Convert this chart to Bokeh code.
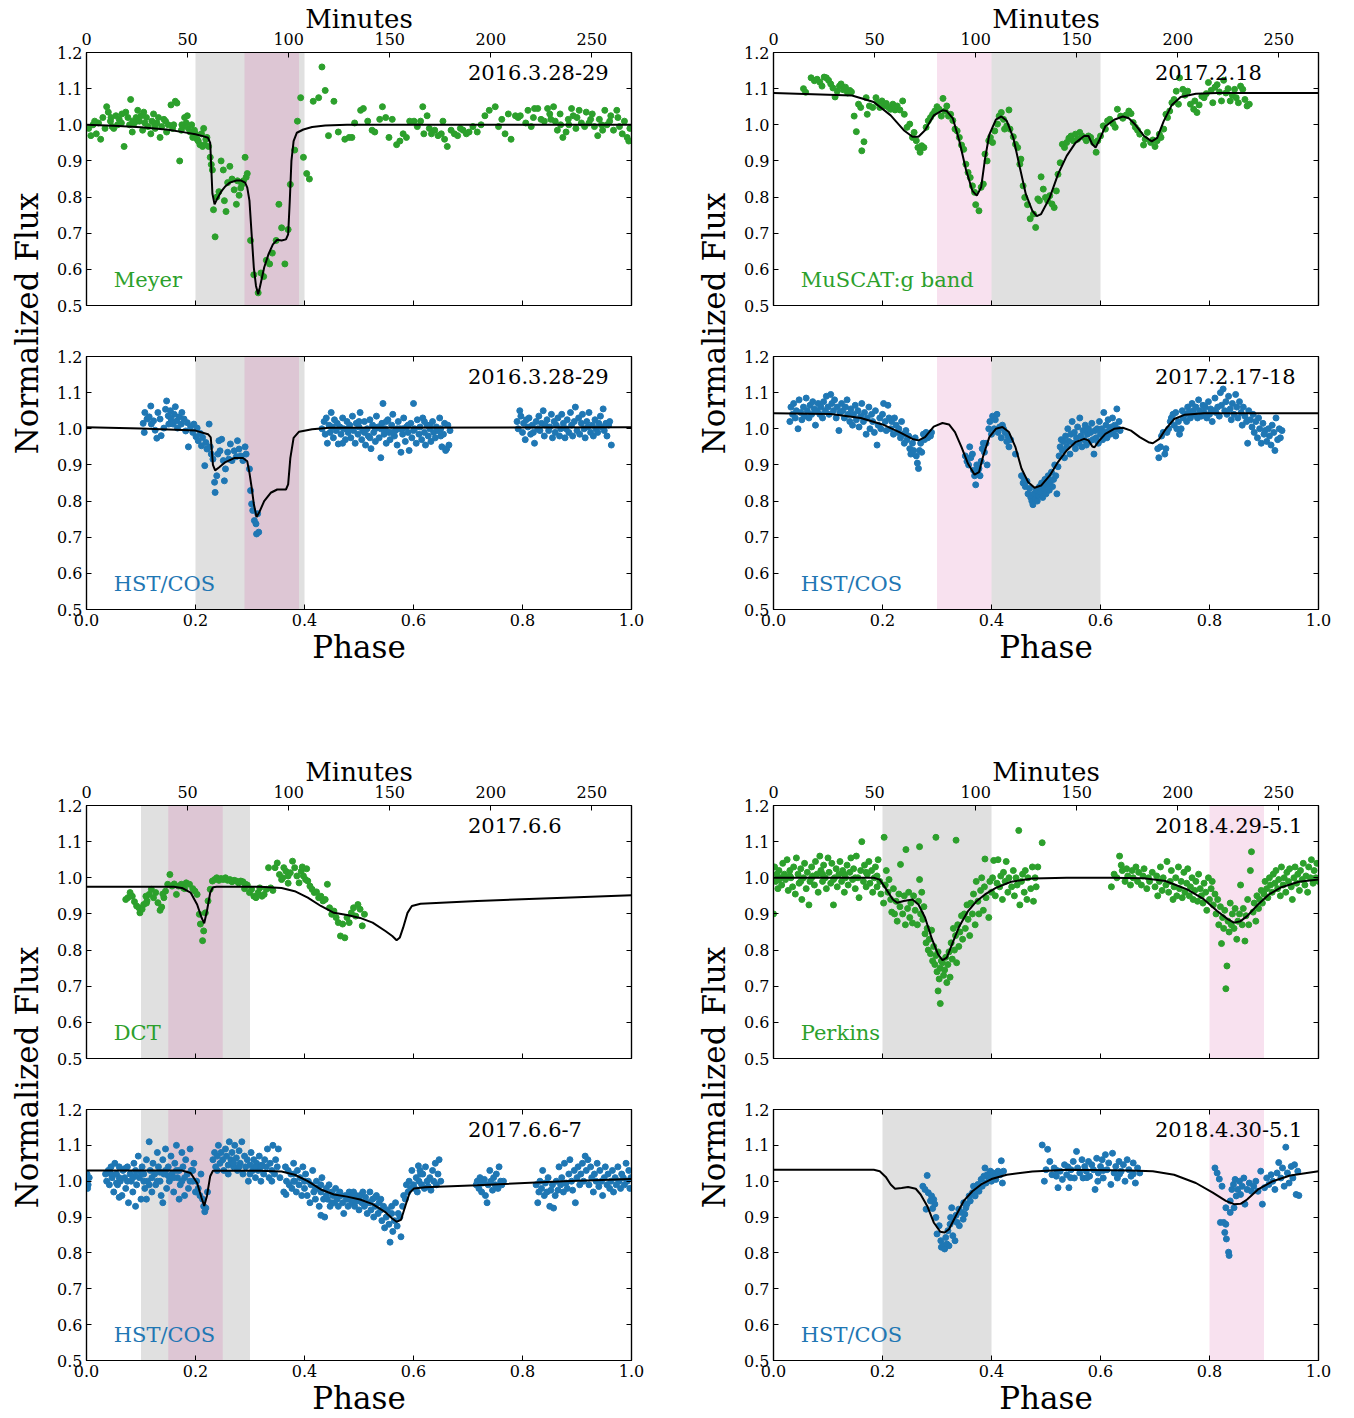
import math
from bokeh.plotting import figure
from bokeh.models import Range1d, LinearAxis, FixedTicker, Label, BoxAnnotation
from bokeh.layouts import row, column
from bokeh.embed import file_html
from bokeh.resources import INLINE

# ---------------------------------------------------------------- data
PERIOD_MIN = 269.6

yticks = [0.5, 0.6, 0.7, 0.8, 0.9, 1.0, 1.1, 1.2]
ytick_labels = ["0.5", "0.6", "0.7", "0.8", "0.9", "1.0", "1.1", "1.2"]
phase_ticks = [0.0, 0.2, 0.4, 0.6, 0.8, 1.0]
phase_tick_labels = ["0.0", "0.2", "0.4", "0.6", "0.8", "1.0"]
minute_ticks = [0, 50, 100, 150, 200, 250]
minute_tick_labels = ["0", "50", "100", "150", "200", "250"]

dates = ["2016.3.28-29", "2016.3.28-29", "2017.2.18", "2017.2.17-18",
         "2017.6.6", "2017.6.6-7", "2018.4.29-5.1", "2018.4.30-5.1"]
instruments = ["Meyer", "HST/COS", "MuSCAT:g band", "HST/COS",
               "DCT", "HST/COS", "Perkins", "HST/COS"]

# shaded windows (phase)
gray_2016 = (0.2, 0.4)
pink_2016 = (0.29, 0.39)
gray_2017a = (0.4, 0.6)
pink_2017a = (0.3, 0.4)
gray_2017b = (0.1, 0.3)
pink_2017b = (0.15, 0.25)
gray_2018 = (0.2, 0.4)
pink_2018 = (0.8, 0.9)

meyer_pts = [
(0.004,0.99),(0.008,0.97),(0.012,1.0),(0.018,0.975),(0.022,1.005),(0.026,0.96),(0.03,1.02),(0.034,0.99),(0.037,1.05),(0.04,1.035),
(0.044,1.01),(0.047,0.995),(0.05,0.99),(0.054,1.025),(0.057,1.0),(0.06,1.015),(0.064,1.005),(0.069,0.94),(0.072,1.035),(0.076,1.02),
(0.079,1.0),(0.081,1.07),(0.084,0.98),(0.088,1.005),(0.091,1.02),(0.094,1.04),(0.097,1.01),(0.1,1.025),(0.103,0.985),(0.107,1.005),
(0.11,1.02),(0.113,0.995),(0.118,0.975),(0.12,1.01),(0.123,1.03),(0.126,0.99),(0.129,1.005),(0.132,1.02),(0.135,0.965),(0.138,0.995),
(0.142,1.015),(0.147,0.98),(0.15,1.0),(0.155,1.055),(0.158,0.99),(0.163,1.065),(0.166,1.06),(0.171,0.9),(0.174,0.985),(0.177,0.995),
(0.18,1.02),(0.183,1.005),(0.187,0.99),(0.19,0.98),(0.193,1.0),(0.195,0.965),(0.198,0.985),
(0.2,0.975),(0.203,0.96),(0.205,0.955),(0.208,0.945),(0.211,0.975),(0.213,0.94),(0.215,0.99),(0.217,0.945),(0.219,0.96),(0.221,0.965),
(0.224,0.94),(0.227,0.91),(0.229,0.89),(0.231,0.875),(0.233,0.765),(0.236,0.69),(0.239,0.8),(0.243,0.815),(0.247,0.9),(0.251,0.875),
(0.253,0.79),(0.256,0.76),(0.259,0.84),(0.263,0.885),(0.267,0.85),(0.271,0.82),(0.275,0.78),(0.277,0.845),(0.28,0.805),(0.283,0.825),
(0.285,0.835),(0.288,0.845),(0.291,0.91),(0.293,0.855),(0.295,0.865),(0.301,0.68),(0.307,0.585),(0.315,0.535),(0.32,0.59),(0.325,0.58),
(0.33,0.625),(0.336,0.615),(0.341,0.645),(0.348,0.68),(0.353,0.78),(0.358,0.715),(0.364,0.615),(0.37,0.71),(0.374,0.835),(0.382,0.93),
(0.387,1.01),(0.393,1.075),(0.398,0.91),(0.404,0.865),(0.409,0.85),(0.416,1.065),(0.426,1.075),(0.432,1.16),(0.438,1.095),(0.444,0.97),
(0.454,1.065),(0.462,0.98),(0.474,0.96),(0.482,0.965),(0.487,0.965),(0.492,1.005),(0.503,1.04),(0.508,1.045),(0.516,1.01),(0.524,0.985),
(0.529,0.98),(0.538,1.015),(0.543,1.05),(0.549,1.02),(0.555,0.965),(0.561,1.015),(0.569,0.945),(0.575,0.955),(0.581,0.975),(0.587,0.965),
(0.593,1.01),(0.601,1.01),(0.607,0.995),(0.613,1.01),(0.617,1.05),(0.619,0.975),(0.625,1.025),(0.629,0.99),(0.633,0.975),(0.639,0.985),
(0.645,0.97),(0.651,0.975),(0.654,1.01),(0.657,0.96),(0.662,0.94),(0.669,0.985),(0.675,0.975),(0.681,0.97),(0.686,0.99),(0.691,0.985),
(0.697,0.975),(0.702,0.98),(0.709,0.995),(0.717,0.98),(0.724,1.0),(0.731,1.025),(0.739,1.04),(0.75,1.05),(0.756,0.995),(0.762,1.015),
(0.768,0.975),(0.774,1.03),(0.779,0.96),(0.787,1.025),(0.792,1.02),(0.796,1.025),(0.806,1.005),(0.81,1.04),(0.816,0.995),(0.822,1.045),
(0.828,1.045),(0.834,1.015),(0.84,1.01),(0.846,1.045),(0.852,1.015),(0.857,1.05),(0.864,0.985),(0.869,1.03),(0.874,0.965),(0.88,0.98),
(0.884,1.015),(0.89,1.045),(0.893,1.025),(0.898,0.99),(0.904,1.04),(0.908,1.005),(0.914,0.995),(0.917,1.035),(0.922,1.005),(0.928,1.03),
(0.932,0.995),(0.938,0.97),(0.941,1.015),(0.947,0.985),(0.951,1.04),(0.955,1.0),(0.962,1.025),(0.967,0.985),(0.973,1.04),(0.978,0.995),
(0.983,0.975),(0.987,1.01),(0.992,0.965),(0.995,0.955),(0.997,0.99),
(0.015,1.01),(0.045,1.02),(0.065,1.03),(0.085,1.01),(0.105,1.035),(0.125,1.0),(0.145,1.01),(0.16,1.0),(0.185,1.025),(0.175,1.0),
(0.82,1.02),(0.85,1.03),(0.87,1.0),(0.9,1.02),(0.925,1.015),(0.945,1.0),(0.96,1.01),(0.975,1.02),(0.86,1.01),(0.885,1.0)]

meyer_model = [
(0.0,1.0),(0.05,0.997),(0.1,0.993),(0.15,0.986),(0.18,0.979),(0.2,0.974),(0.215,0.968),(0.223,0.964),(0.227,0.95),(0.231,0.81),
(0.235,0.78),(0.239,0.793),(0.247,0.815),(0.255,0.83),(0.263,0.84),(0.275,0.846),(0.283,0.846),(0.291,0.84),(0.295,0.826),(0.299,0.79),
(0.303,0.697),(0.307,0.605),(0.311,0.554),(0.315,0.531),(0.318,0.55),(0.326,0.605),(0.334,0.642),(0.342,0.669),(0.35,0.682),(0.358,0.68),
(0.366,0.683),(0.37,0.697),(0.373,0.79),(0.376,0.9),(0.38,0.955),(0.386,0.978),(0.398,0.987),(0.414,0.994),(0.438,0.998),(0.478,1.0),(1.0,1.0)]

hst16_pts = [
(0.104,1.015),(0.106,0.99),(0.107,1.045),(0.111,1.027),(0.115,1.033),(0.118,1.063),(0.119,1.013),(0.123,1.022),(0.126,0.996),(0.129,0.974),
(0.131,1.045),(0.135,1.027),(0.137,0.981),(0.142,1.002),(0.145,1.054),(0.147,1.077),(0.15,1.036),(0.151,1.013),(0.154,1.05),(0.155,1.027),
(0.159,1.013),(0.161,1.04),(0.163,1.061),(0.166,1.022),(0.167,1.002),(0.17,1.033),(0.174,1.013),(0.175,1.045),(0.179,1.027),(0.182,0.994),
(0.185,1.017),(0.187,0.95),(0.191,1.006),(0.195,0.99),(0.197,1.013),(0.201,0.978),(0.203,1.002),(0.205,0.967),(0.209,0.987),(0.211,0.953),
(0.213,0.976),(0.217,0.898),(0.219,0.962),(0.221,0.944),(0.225,1.013),(0.227,0.95),(0.229,0.93),(0.232,0.916),(0.235,0.852),(0.236,0.824),
(0.239,0.87),(0.241,0.93),(0.243,0.967),(0.245,0.939),(0.248,0.971),(0.251,0.912),(0.253,0.856),(0.255,0.889),(0.259,0.935),(0.261,0.916),
(0.264,0.958),(0.267,0.912),(0.271,0.939),(0.275,0.923),(0.277,0.967),(0.28,0.944),(0.283,0.925),(0.287,0.912),(0.291,0.95),(0.293,0.93),
(0.299,0.889),(0.301,0.829),(0.303,0.792),(0.305,0.774),(0.308,0.746),(0.311,0.737),(0.312,0.709),(0.316,0.714),(0.314,0.765),
(0.432,1.0),(0.436,1.02),(0.438,0.985),(0.44,1.03),(0.442,0.96),(0.445,1.01),(0.447,0.99),(0.449,1.045),(0.451,1.005),(0.453,0.975),
(0.455,1.025),(0.458,0.995),(0.46,1.015),(0.462,0.958),(0.465,1.005),(0.467,0.985),(0.47,1.03),(0.472,1.0),(0.475,0.97),(0.478,1.02),
(0.48,0.99),(0.483,1.01),(0.485,0.975),(0.488,1.035),(0.49,0.995),(0.493,0.96),(0.495,1.015),(0.498,0.985),(0.5,1.005),(0.502,1.045),
(0.505,0.97),(0.507,0.995),(0.51,1.02),(0.512,0.955),(0.515,1.0),(0.517,0.98),(0.52,1.025),(0.522,0.945),(0.525,1.01),(0.527,0.99),
(0.53,0.965),(0.532,1.035),(0.535,1.005),(0.537,0.975),(0.54,0.92),(0.542,1.015),(0.544,1.07),(0.546,0.985),(0.548,1.0),(0.55,0.96),
(0.553,1.025),(0.555,0.99),(0.557,0.97),(0.56,1.01),(0.562,1.04),(0.565,0.98),(0.567,0.995),(0.57,0.955),(0.572,1.02),(0.575,1.0),
(0.577,0.935),(0.58,0.985),(0.582,1.03),(0.585,0.965),(0.587,1.005),(0.59,0.99),(0.592,0.94),(0.595,1.015),(0.597,0.975),(0.6,1.07),
(0.602,1.0),(0.605,0.96),(0.607,1.025),(0.61,0.985),(0.612,1.005),(0.615,0.97),(0.617,1.03),(0.62,0.99),(0.622,0.955),(0.625,1.01),
(0.627,0.98),(0.63,1.0),(0.632,0.965),(0.635,1.02),(0.637,0.99),(0.64,0.975),(0.642,1.005),(0.645,0.995),(0.648,1.03),(0.65,0.98),
(0.652,0.95),(0.655,0.985),(0.657,1.015),(0.659,0.94),(0.661,0.945),(0.663,1.01),(0.665,0.955),(0.667,0.995),
(0.47,0.96),(0.5,1.02),(0.53,1.0),(0.56,0.99),(0.59,1.01),(0.62,1.02),(0.65,1.0),(0.48,1.0),(0.51,0.99),(0.54,1.0),
(0.57,1.0),(0.6,0.995),(0.63,1.01),(0.55,1.02),(0.58,1.0),(0.52,0.975),
(0.79,1.02),(0.792,1.0),(0.795,1.05),(0.797,1.035),(0.8,0.99),(0.802,1.015),(0.805,0.97),(0.807,1.025),(0.81,1.005),(0.812,1.03),
(0.815,0.985),(0.818,1.01),(0.82,0.99),(0.822,0.96),(0.825,1.02),(0.828,1.0),(0.83,1.035),(0.832,0.995),(0.835,1.015),(0.838,1.05),
(0.84,0.98),(0.842,1.01),(0.845,1.025),(0.848,0.995),(0.85,1.005),(0.853,1.04),(0.855,0.975),(0.858,1.02),(0.86,0.99),(0.862,1.01),
(0.865,1.03),(0.868,0.98),(0.87,1.0),(0.872,1.04),(0.875,1.015),(0.878,0.975),(0.88,1.0),(0.882,1.025),(0.885,0.99),(0.888,1.045),
(0.89,1.01),(0.892,0.98),(0.895,1.02),(0.897,1.06),(0.9,0.995),(0.903,1.03),(0.905,0.985),(0.908,1.015),(0.91,1.04),(0.913,1.0),
(0.915,0.975),(0.918,1.02),(0.92,1.005),(0.922,1.045),(0.925,0.99),(0.928,1.01),(0.93,0.98),(0.933,1.025),(0.935,1.0),(0.938,0.99),
(0.94,1.015),(0.943,1.035),(0.945,1.005),(0.948,1.055),(0.95,0.995),(0.953,1.015),(0.955,0.98),(0.958,1.01),(0.96,1.02),(0.963,0.955)]

hst16_model = [
(0.0,1.004),(0.1,1.001),(0.2,0.995),(0.223,0.985),(0.228,0.976),(0.232,0.9),(0.236,0.885),(0.243,0.893),(0.255,0.908),(0.271,0.919),
(0.287,0.919),(0.295,0.91),(0.299,0.878),(0.303,0.838),(0.307,0.792),(0.312,0.756),(0.317,0.769),(0.326,0.8),(0.338,0.823),(0.35,0.832),
(0.366,0.832),(0.37,0.846),(0.374,0.919),(0.38,0.975),(0.39,0.992),(0.414,0.999),(0.446,1.003),(1.0,1.004)]

muscat_pts = [
(0.055,1.1),(0.059,1.09),(0.069,1.13),(0.075,1.122),(0.08,1.126),(0.085,1.118),(0.089,1.107),(0.093,1.132),(0.097,1.13),(0.101,1.123),
(0.105,1.113),(0.109,1.102),(0.113,1.077),(0.117,1.093),(0.121,1.107),(0.124,1.113),(0.128,1.097),(0.132,1.104),(0.136,1.088),(0.14,1.095),
(0.143,1.091),(0.148,1.024),(0.152,0.981),(0.156,1.057),(0.16,1.048),(0.162,0.928),(0.166,0.953),(0.17,1.075),(0.172,1.029),(0.176,1.052),
(0.182,1.048),(0.188,1.075),(0.191,1.061),(0.195,1.048),(0.199,1.066),(0.203,1.052),(0.207,1.059),(0.211,1.048),(0.215,1.043),(0.219,1.057),
(0.223,1.041),(0.227,1.052),(0.232,1.041),(0.237,1.066),(0.24,1.029),(0.245,0.993),(0.25,1.002),(0.255,0.965),(0.258,0.979),(0.262,0.956),
(0.265,0.937),(0.269,0.924),(0.272,0.942),(0.276,0.937),(0.28,0.993),(0.284,1.011),(0.288,1.02),(0.292,1.029),(0.296,1.038),(0.3,1.05),
(0.304,1.043),(0.308,1.024),(0.311,1.073),(0.315,1.038),(0.318,1.052),(0.321,1.024),(0.325,1.029),(0.329,1.012),(0.333,0.988),(0.337,0.983),
(0.341,0.965),(0.345,0.944),(0.349,0.932),(0.353,0.891),(0.357,0.868),(0.361,0.854),(0.365,0.831),(0.369,0.813),(0.371,0.779),(0.377,0.762),
(0.381,0.827),(0.385,0.836),(0.388,0.919),(0.392,0.9),(0.395,0.956),(0.398,0.965),(0.402,0.951),(0.406,0.983),(0.411,1.002),(0.414,1.024),
(0.418,1.034),(0.422,1.015),(0.424,0.988),(0.428,0.997),(0.432,1.041),(0.434,0.988),(0.44,0.967),(0.444,0.946),(0.448,0.937),(0.452,0.891),
(0.454,0.905),(0.458,0.831),(0.461,0.799),(0.466,0.779),(0.471,0.74),(0.477,0.753),(0.481,0.716),(0.485,0.795),(0.488,0.79),(0.491,0.856),
(0.495,0.822),(0.499,0.799),(0.503,0.79),(0.507,0.804),(0.511,0.781),(0.515,0.771),(0.519,0.817),(0.522,0.863),(0.526,0.895),(0.53,0.946),
(0.534,0.937),(0.538,0.951),(0.542,0.963),(0.546,0.969),(0.55,0.956),(0.554,0.974),(0.558,0.96),(0.562,0.979),(0.566,0.969),(0.57,0.965),
(0.574,0.956),(0.578,0.969),(0.582,0.965),(0.587,0.951),(0.592,0.924),(0.595,0.956),(0.6,0.969),(0.605,0.997),(0.609,0.988),(0.613,1.011),
(0.617,1.015),(0.623,1.003),(0.627,0.993),(0.631,1.043),(0.637,1.024),(0.641,1.018),(0.647,1.027),(0.652,1.038),(0.656,1.031),(0.66,1.006),
(0.664,0.993),(0.668,0.985),(0.672,0.974),(0.679,0.944),(0.682,0.96),(0.686,0.979),(0.692,0.951),(0.696,0.958),(0.7,0.94),(0.704,0.956),
(0.708,0.974),(0.711,0.965),(0.716,0.988),(0.72,1.029),(0.723,1.02),(0.727,1.038),(0.731,1.061),(0.735,1.07),(0.739,1.093),(0.743,1.057),
(0.745,1.13),(0.751,1.098),(0.755,1.082),(0.76,1.093),(0.765,1.057),(0.771,1.043),(0.773,1.066),(0.777,1.034),(0.781,1.055),(0.786,1.079),
(0.79,1.075),(0.794,1.086),(0.798,1.117),(0.803,1.095),(0.806,1.061),(0.81,1.104),(0.814,1.111),(0.818,1.091),(0.822,1.066),(0.826,1.123),
(0.83,1.088),(0.834,1.1),(0.838,1.066),(0.842,1.082),(0.846,1.098),(0.849,1.075),(0.853,1.061),(0.857,1.107),(0.861,1.098),(0.865,1.07),
(0.869,1.052),(0.873,1.057)]

muscat_model = [
(0.0,1.088),(0.144,1.081),(0.184,1.063),(0.215,1.026),(0.239,0.985),(0.255,0.967),(0.266,0.967),(0.278,0.985),(0.294,1.026),(0.31,1.04),
(0.318,1.038),(0.329,1.018),(0.341,0.955),(0.353,0.877),(0.365,0.817),(0.373,0.804),(0.381,0.827),(0.388,0.905),(0.396,0.973),(0.408,1.014),
(0.418,1.023),(0.428,1.011),(0.44,0.964),(0.452,0.882),(0.463,0.808),(0.475,0.762),(0.483,0.747),(0.491,0.753),(0.507,0.799),(0.522,0.863),
(0.538,0.914),(0.554,0.95),(0.57,0.969),(0.578,0.969),(0.585,0.946),(0.591,0.937),(0.597,0.955),(0.609,0.996),(0.625,1.014),(0.641,1.023),
(0.652,1.018),(0.664,1.0),(0.68,0.969),(0.694,0.954),(0.704,0.964),(0.716,1.01),(0.731,1.055),(0.747,1.077),(0.775,1.086),(0.814,1.088),(1.0,1.088)]

hst17a_pts = [
(0.03,1.02),(0.032,1.06),(0.035,1.04),(0.037,1.07),(0.04,1.03),(0.042,1.05),(0.045,1.0),(0.047,1.08),(0.05,1.045),(0.052,1.025),
(0.055,1.06),(0.057,1.035),(0.06,1.085),(0.062,1.05),(0.065,1.03),(0.067,1.065),(0.07,1.04),(0.072,1.075),(0.075,1.055),(0.077,1.01),
(0.08,1.05),(0.082,1.07),(0.085,1.04),(0.087,1.06),(0.09,1.03),(0.092,1.075),(0.095,1.05),(0.097,1.09),(0.1,1.06),(0.102,1.04),
(0.105,1.095),(0.107,1.07),(0.11,1.05),(0.112,1.08),(0.115,1.03),(0.117,1.06),(0.12,0.995),(0.122,1.045),(0.125,1.07),(0.127,1.05),
(0.13,1.03),(0.132,1.06),(0.135,1.08),(0.137,1.04),(0.14,1.02),(0.142,1.055),(0.145,1.01),(0.147,1.04),(0.15,1.065),(0.152,1.025),
(0.155,1.05),(0.157,1.005),(0.16,1.035),(0.162,1.07),(0.165,1.02),(0.167,1.045),(0.17,0.985),(0.172,1.03),(0.175,1.06),(0.177,1.0),
(0.18,1.04),(0.182,1.02),(0.185,0.99),(0.187,1.05),(0.19,0.955),(0.192,1.01),(0.195,1.03),(0.197,1.0),(0.2,1.04),(0.202,1.07),
(0.205,1.02),(0.207,0.995),(0.21,1.065),(0.212,1.03),(0.215,1.0),(0.217,1.02),(0.22,0.985),(0.222,1.03),(0.225,1.01),(0.228,0.99),
(0.23,1.0),(0.233,0.975),(0.235,1.02),(0.238,0.985),(0.24,0.96),(0.243,0.995),(0.245,0.97),(0.248,0.98),(0.25,0.945),(0.252,0.93),
(0.255,0.96),(0.257,0.94),(0.26,0.975),(0.262,0.925),(0.264,0.905),(0.266,0.89),(0.268,0.94),(0.27,0.96),(0.272,0.935),(0.275,0.985),
(0.277,0.97),(0.28,0.99),(0.283,0.975),(0.285,0.985),(0.288,0.98),(0.29,0.99),
(0.352,0.925),(0.355,0.91),(0.358,0.9),(0.36,0.95),(0.362,0.92),(0.365,0.93),(0.367,0.885),(0.369,0.87),(0.371,0.845),(0.373,0.9),
(0.375,0.88),(0.377,0.89),(0.379,0.87),(0.381,0.91),(0.383,0.945),(0.385,0.96),(0.387,0.935),(0.39,0.96),(0.392,0.9),(0.395,1.0),
(0.397,1.02),(0.4,0.985),(0.402,1.035),(0.405,1.0),(0.407,1.025),(0.41,1.04),(0.412,0.99),(0.415,1.005),(0.418,0.975),(0.42,1.01),
(0.422,1.0),(0.425,0.99),(0.428,0.965),(0.43,0.98),(0.432,0.95),(0.435,0.97),(0.444,0.93),
(0.455,0.87),(0.458,0.85),(0.46,0.86),(0.462,0.84),(0.465,0.855),(0.467,0.82),(0.47,0.835),(0.472,0.81),(0.474,0.8),(0.476,0.79),
(0.478,0.82),(0.48,0.805),(0.482,0.83),(0.484,0.8),(0.486,0.815),(0.488,0.84),(0.49,0.825),(0.492,0.85),(0.494,0.81),(0.496,0.835),
(0.498,0.86),(0.5,0.82),(0.502,0.845),(0.504,0.87),(0.506,0.83),(0.508,0.855),(0.51,0.88),(0.512,0.84),(0.514,0.86),(0.516,0.9),
(0.518,0.87),(0.52,0.82),(0.522,0.895),(0.524,0.925),(0.526,0.95),(0.528,0.97),(0.53,0.94),(0.532,0.965),(0.534,0.92),(0.536,0.98),
(0.538,0.95),(0.54,1.0),(0.542,0.965),(0.544,0.93),(0.546,0.985),(0.548,1.02),(0.55,0.96),(0.552,0.99),(0.554,0.945),(0.556,0.975),
(0.558,1.005),(0.56,0.96),(0.562,1.03),(0.564,0.98),(0.566,0.95),(0.568,0.995),(0.57,0.97),(0.572,1.01),(0.574,0.955),(0.576,0.985),
(0.578,1.0),(0.58,0.965),(0.582,0.99),(0.584,1.015),(0.586,0.97),(0.588,0.93),(0.59,0.995),(0.592,0.975),(0.594,1.0),(0.596,0.96),
(0.598,1.02),(0.6,0.985),(0.602,1.0),(0.604,0.97),(0.606,1.045),(0.608,0.99),(0.61,1.01),(0.612,0.975),(0.614,1.025),(0.616,0.995),
(0.618,0.985),(0.62,1.005),(0.622,1.03),(0.624,0.99),(0.626,1.01),(0.628,0.98),(0.63,1.055),(0.632,1.0),(0.634,1.02),(0.636,0.995),
(0.705,0.945),(0.707,0.92),(0.71,0.95),(0.712,0.98),(0.715,0.99),(0.718,0.93),(0.72,0.945),(0.722,0.99),(0.725,1.0),(0.728,1.02),
(0.73,1.03),(0.733,1.04),(0.735,1.01),(0.738,1.045),(0.74,1.0),(0.743,1.02),(0.745,0.985),(0.748,1.0),(0.75,1.05),(0.752,1.03),
(0.755,1.04),(0.758,1.02),(0.76,1.06),(0.762,1.045),(0.765,1.03),(0.768,1.07),(0.77,1.05),(0.772,1.04),(0.775,1.06),(0.778,1.03),
(0.78,1.08),(0.782,1.05),(0.785,1.035),(0.788,1.065),(0.79,1.045),(0.792,1.06),(0.795,1.03),(0.798,1.075),(0.8,1.04),(0.802,1.055),
(0.805,1.02),(0.808,1.05),(0.81,1.085),(0.812,1.045),(0.815,1.06),(0.818,1.035),(0.82,1.1),(0.822,1.065),(0.825,1.11),(0.828,1.05),
(0.83,1.075),(0.832,1.04),(0.835,1.09),(0.838,1.055),(0.84,1.025),(0.842,1.07),(0.845,1.04),(0.848,1.095),(0.85,1.06),(0.852,1.03),
(0.855,1.075),(0.858,1.045),(0.86,1.01),(0.862,1.06),(0.865,1.035),(0.868,1.02),(0.87,0.96),(0.872,1.05),(0.875,1.025),(0.878,1.005),
(0.88,1.04),(0.882,0.99),(0.885,1.02),(0.888,0.975),(0.89,1.03),(0.892,1.0),(0.895,0.96),(0.898,1.015),(0.9,0.985),(0.902,0.995),
(0.905,0.965),(0.908,1.0),(0.91,0.98),(0.913,0.955),(0.915,1.01),(0.918,0.99),(0.92,0.94),(0.922,1.03),(0.925,0.97),(0.928,1.0),
(0.93,0.975),(0.933,0.995)]

hst17a_model = [
(0.0,1.043),(0.105,1.041),(0.16,1.03),(0.2,1.012),(0.231,0.991),(0.255,0.972),(0.266,0.968),(0.278,0.977),(0.294,1.006),(0.31,1.016),
(0.322,1.012),(0.333,0.991),(0.345,0.949),(0.357,0.903),(0.369,0.873),(0.377,0.88),(0.385,0.926),(0.396,0.977),(0.408,1.0),(0.42,1.005),
(0.432,0.991),(0.444,0.949),(0.455,0.89),(0.467,0.853),(0.479,0.837),(0.491,0.843),(0.507,0.871),(0.522,0.908),(0.538,0.94),(0.554,0.963),
(0.57,0.972),(0.578,0.968),(0.585,0.951),(0.589,0.949),(0.597,0.966),(0.609,0.986),(0.625,1.0),(0.641,1.003),(0.656,0.995),(0.672,0.977),
(0.688,0.963),(0.696,0.96),(0.708,0.972),(0.72,1.0),(0.735,1.027),(0.755,1.039),(0.79,1.043),(1.0,1.043)]

dct_pts = [
(0.072,0.94),(0.076,0.945),(0.08,0.959),(0.084,0.949),(0.088,0.934),(0.092,0.922),(0.096,0.917),(0.098,0.903),(0.102,0.913),(0.105,0.926),
(0.109,0.949),(0.111,0.936),(0.115,0.954),(0.119,0.968),(0.123,0.945),(0.127,0.959),(0.131,0.931),(0.135,0.91),(0.138,0.919),(0.142,0.945),
(0.145,0.963),(0.149,0.982),(0.153,1.009),(0.157,0.977),(0.161,0.983),(0.165,0.954),(0.169,0.977),(0.174,0.982),(0.178,0.972),(0.183,0.986),
(0.189,0.982),(0.195,0.97),(0.199,0.963),(0.203,0.954),(0.207,0.899),(0.209,0.872),(0.213,0.826),(0.215,0.853),(0.218,0.903),(0.223,0.936),
(0.227,0.968),(0.231,0.991),(0.235,0.995),(0.239,1.0),(0.243,0.993),(0.247,0.998),(0.251,0.995),(0.255,1.0),(0.259,0.993),(0.263,0.995),
(0.267,0.989),(0.271,0.993),(0.275,0.991),(0.279,0.986),(0.283,0.991),(0.287,0.989),(0.291,0.983),(0.295,0.98),(0.299,0.959),(0.303,0.968),
(0.307,0.949),(0.311,0.945),(0.315,0.959),(0.318,0.972),(0.322,0.949),(0.326,0.954),(0.33,0.968),(0.334,1.028),(0.338,0.972),(0.342,0.965),
(0.346,1.028),(0.35,1.041),(0.354,1.009),(0.358,0.995),(0.362,1.028),(0.366,1.018),(0.37,1.005),(0.374,1.014),(0.378,1.046),(0.382,1.028),
(0.386,1.005),(0.39,0.986),(0.394,1.018),(0.398,1.005),(0.402,0.995),(0.406,0.991),(0.41,0.977),(0.414,0.968),(0.418,0.959),(0.422,0.961),
(0.426,0.945),(0.43,0.949),(0.434,0.936),(0.438,0.94),(0.442,0.982),(0.446,0.917),(0.45,0.899),(0.454,0.908),(0.458,0.89),(0.462,0.876),
(0.466,0.839),(0.47,0.872),(0.474,0.834),(0.478,0.89),(0.482,0.876),(0.486,0.903),(0.49,0.917),(0.494,0.894),(0.498,0.926),(0.502,0.913),
(0.506,0.867),(0.51,0.899),(0.396,1.03),(0.404,1.025),(0.36,1.0),(0.37,0.985),(0.11,0.93),(0.14,0.955),(0.18,0.97),(0.29,0.97)]

dct_model = [
(0.0,0.975),(0.16,0.975),(0.175,0.972),(0.191,0.959),(0.203,0.926),(0.211,0.89),(0.216,0.874),(0.221,0.908),(0.227,0.959),(0.232,0.974),
(0.239,0.975),(0.318,0.975),(0.358,0.972),(0.382,0.963),(0.406,0.945),(0.43,0.922),(0.454,0.903),(0.478,0.897),(0.502,0.889),(0.525,0.876),
(0.549,0.852),(0.561,0.839),(0.569,0.827),(0.575,0.835),(0.581,0.862),(0.589,0.903),(0.597,0.922),(0.613,0.928),(0.717,0.936),(0.876,0.945),(1.0,0.952)]

hst17b_pts = [
(0.0,1.0),(0.001,1.02),(0.002,0.98),(0.003,0.99),(0.005,1.01),
(0.035,1.02),(0.037,1.0),(0.04,1.03),(0.042,0.99),(0.045,1.04),(0.047,1.01),(0.05,0.97),(0.052,1.05),(0.055,1.02),(0.057,0.99),
(0.06,1.04),(0.062,1.0),(0.065,0.96),(0.067,1.03),(0.07,1.01),(0.072,0.98),(0.075,1.04),(0.077,0.94),(0.08,1.02),(0.082,1.0),
(0.085,0.97),(0.087,1.05),(0.09,1.03),(0.092,0.99),(0.095,1.07),(0.097,1.01),(0.1,0.95),(0.102,1.04),(0.105,1.02),(0.107,0.98),
(0.11,1.06),(0.112,1.0),(0.115,1.11),(0.117,1.03),(0.12,0.97),(0.122,1.05),(0.125,1.02),(0.127,0.99),(0.13,1.08),(0.132,1.04),
(0.135,1.0),(0.137,0.96),(0.14,1.06),(0.142,1.02),(0.145,1.09),(0.147,0.98),(0.15,1.04),(0.152,1.0),(0.155,1.07),(0.157,1.02),
(0.16,0.97),(0.162,1.05),(0.165,1.1),(0.167,1.01),(0.17,1.03),(0.172,0.99),(0.175,1.08),(0.177,1.04),(0.18,0.96),(0.182,1.06),
(0.185,1.02),(0.187,0.98),(0.19,1.09),(0.192,1.03),(0.195,1.0),(0.197,1.05),(0.2,0.97),
(0.045,1.02),(0.06,1.01),(0.075,1.0),(0.09,1.015),(0.105,1.0),(0.12,1.01),(0.135,1.025),(0.15,1.015),(0.165,1.03),(0.18,1.01),
(0.195,1.03),(0.055,0.995),(0.07,1.035),(0.085,1.01),(0.1,1.025),(0.115,0.99),(0.13,1.0),(0.145,1.03),(0.16,1.01),(0.175,1.0),
(0.19,1.0),(0.09,0.93),(0.06,0.955),(0.14,0.94),(0.17,0.95),(0.11,0.95),
(0.202,1.0),(0.205,0.98),(0.208,0.96),(0.21,1.02),(0.213,0.95),(0.215,0.93),(0.217,0.915),(0.219,0.925),(0.222,0.97),
(0.232,1.06),(0.235,1.08),(0.237,1.04),(0.24,1.07),(0.242,1.1),(0.245,1.05),(0.247,1.08),(0.25,1.06),(0.252,1.03),(0.255,1.09),
(0.257,1.07),(0.26,1.045),(0.262,1.11),(0.265,1.06),(0.267,1.08),(0.27,1.04),(0.272,1.1),(0.275,1.065),(0.277,1.03),(0.28,1.085),
(0.282,1.05),(0.285,1.11),(0.287,1.02),(0.29,1.07),(0.292,1.04),(0.295,1.06),(0.297,1.0),(0.3,1.045),(0.302,1.08),(0.305,1.03),
(0.307,1.06),(0.31,1.01),(0.312,1.05),(0.315,1.03),(0.317,1.07),(0.32,1.0),(0.322,1.045),(0.325,1.02),(0.327,1.06),(0.33,1.04),
(0.332,1.09),(0.335,1.01),(0.337,1.05),(0.34,1.03),(0.342,1.1),(0.345,1.02),(0.347,1.06),(0.35,1.04),(0.352,1.09),(0.355,1.01),
(0.24,1.03),(0.26,1.02),(0.28,1.04),(0.3,1.02),(0.32,1.04),(0.34,1.0),(0.27,1.05),(0.31,1.04),
(0.362,0.97),(0.365,1.04),(0.367,1.0),(0.37,1.03),(0.372,0.99),(0.375,1.02),(0.377,0.98),(0.38,1.05),(0.382,1.0),(0.385,0.97),
(0.387,1.03),(0.39,0.99),(0.392,1.01),(0.395,0.96),(0.397,1.04),(0.4,0.98),(0.402,1.02),(0.405,0.96),(0.407,1.0),(0.41,0.94),
(0.412,0.99),(0.415,1.03),(0.417,0.97),(0.42,0.95),(0.422,1.0),(0.425,0.98),(0.427,0.93),(0.43,0.97),(0.432,1.01),(0.435,0.95),
(0.437,0.9),(0.44,0.98),(0.442,0.95),(0.445,0.99),(0.447,0.93),(0.45,0.97),(0.452,0.96),(0.455,0.94),(0.457,0.98),(0.46,0.95),
(0.462,0.93),(0.465,0.97),(0.467,0.96),(0.47,0.94),(0.472,0.91),(0.475,0.96),(0.477,0.95),(0.48,0.93),(0.482,0.97),(0.485,0.955),
(0.487,0.94),(0.49,0.97),(0.492,0.93),(0.495,0.96),(0.497,0.945),(0.5,0.92),(0.502,0.96),(0.505,0.94),(0.507,0.97),(0.51,0.93),
(0.512,0.955),(0.515,0.91),(0.517,0.94),(0.52,0.97),(0.522,0.92),(0.525,0.95),(0.527,0.9),(0.53,0.93),(0.532,0.96),(0.535,0.91),
(0.537,0.94),(0.54,0.92),(0.542,0.89),(0.545,0.93),(0.547,0.87),(0.55,0.9),(0.552,0.92),(0.555,0.88),(0.557,0.83),(0.56,0.91),
(0.562,0.86),(0.565,0.89),(0.567,0.94),(0.57,0.875),(0.572,0.91),(0.575,0.9),(0.577,0.845),(0.58,0.93),(0.582,0.96),(0.585,0.95),
(0.587,0.99),(0.59,0.97),(0.592,1.0),(0.595,0.98),(0.597,1.03),(0.6,0.99),
(0.38,1.0),(0.4,1.0),(0.42,0.98),(0.44,0.96),(0.46,0.96),(0.48,0.95),(0.5,0.95),(0.52,0.94),(0.54,0.95),(0.56,0.93),
(0.38,1.02),(0.43,0.99),(0.53,0.955),(0.45,0.94),(0.49,0.95),(0.43,0.905),(0.366,0.963),
(0.602,0.98),(0.605,1.01),(0.607,0.97),(0.61,1.0),(0.612,1.03),(0.615,0.99),(0.617,1.02),(0.62,0.98),(0.622,1.04),(0.625,1.0),
(0.627,0.985),(0.63,1.01),(0.632,0.975),(0.635,1.03),(0.637,1.0),(0.64,1.05),(0.642,0.99),(0.645,1.02),(0.647,1.06),(0.65,1.0),
(0.609,1.043),(0.613,1.02),
(0.715,0.99),(0.717,1.0),(0.72,0.98),(0.722,1.01),(0.725,0.97),(0.727,0.995),(0.73,1.005),(0.732,0.96),(0.735,0.94),(0.737,0.99),
(0.74,1.03),(0.742,1.0),(0.745,0.975),(0.747,1.01),(0.75,0.99),(0.752,1.02),(0.755,0.98),(0.757,1.04),(0.76,1.0),(0.762,0.99),(0.765,1.0),
(0.825,0.99),(0.828,0.94),(0.83,0.97),(0.832,1.0),(0.835,0.98),(0.837,1.03),(0.84,0.96),(0.842,0.995),(0.845,0.97),(0.847,1.01),
(0.85,0.93),(0.852,0.975),(0.855,0.99),(0.857,0.925),(0.86,0.96),(0.862,1.0),(0.865,0.975),(0.867,1.04),(0.87,0.99),(0.872,1.01),
(0.875,0.97),(0.877,1.05),(0.88,0.995),(0.882,0.98),(0.885,1.02),(0.887,1.06),(0.89,1.0),(0.892,0.975),(0.895,1.03),(0.897,0.94),
(0.9,1.01),(0.902,1.04),(0.905,0.99),(0.907,1.02),(0.91,1.05),(0.912,1.0),(0.915,1.07),(0.917,1.03),(0.92,1.06),(0.922,0.99),
(0.925,1.04),(0.927,1.01),(0.93,0.97),(0.932,1.02),(0.935,1.0),(0.937,1.05),(0.94,0.985),(0.942,1.03),(0.945,1.0),(0.947,0.96),
(0.95,1.01),(0.952,1.04),(0.955,0.99),(0.957,1.02),(0.96,0.98),(0.962,1.0),(0.965,1.03),(0.967,0.97),(0.97,1.01),(0.972,0.99),
(0.975,1.04),(0.977,1.0),(0.98,0.98),(0.982,1.02),(0.985,1.01),(0.987,0.99),(0.99,1.05),(0.992,1.0),(0.995,1.03),(0.997,0.98),(0.999,1.01)]

hst17b_model = [
(0.0,1.03),(0.175,1.03),(0.191,1.023),(0.203,0.995),(0.211,0.954),(0.216,0.931),(0.221,0.959),(0.227,1.014),(0.232,1.029),(0.318,1.029),
(0.358,1.027),(0.382,1.018),(0.406,1.0),(0.43,0.977),(0.454,0.963),(0.478,0.957),(0.502,0.949),(0.525,0.936),(0.549,0.913),(0.561,0.896),
(0.569,0.887),(0.577,0.892),(0.585,0.931),(0.593,0.968),(0.601,0.98),(0.621,0.983),(0.717,0.989),(0.876,1.0),(1.0,1.006)]

perkins_pts = [
(0.0,0.9),(0.002,1.03),(0.004,0.99),(0.006,1.01),(0.008,0.97),(0.01,1.02),(0.013,1.0),(0.015,0.98),(0.017,1.04),(0.02,1.01),
(0.022,0.995),(0.025,1.05),(0.027,0.965),(0.03,1.02),(0.032,1.0),(0.035,0.975),(0.037,1.03),(0.04,0.955),(0.042,1.055),(0.045,1.01),
(0.047,0.985),(0.05,1.025),(0.052,0.94),(0.055,1.0),(0.057,1.04),(0.06,0.97),(0.062,1.015),(0.065,0.925),(0.067,0.99),(0.07,1.03),
(0.072,1.005),(0.075,0.98),(0.077,1.045),(0.08,1.01),(0.082,0.96),(0.085,1.06),(0.087,1.02),(0.09,0.99),(0.092,1.035),(0.095,1.0),
(0.097,0.97),(0.1,1.055),(0.102,1.015),(0.105,0.985),(0.107,1.04),(0.11,0.925),(0.112,1.0),(0.115,1.025),(0.117,0.975),(0.12,1.01),
(0.122,1.045),(0.125,0.99),(0.127,1.02),(0.13,0.96),(0.132,1.0),(0.135,1.035),(0.137,0.98),(0.14,1.015),(0.142,1.055),(0.145,0.995),
(0.147,1.025),(0.15,0.97),(0.152,1.06),(0.155,1.0),(0.157,0.945),(0.16,1.02),(0.162,1.1),(0.165,0.99),(0.167,1.035),(0.17,0.975),
(0.172,1.01),(0.175,1.045),(0.177,0.985),(0.18,1.02),(0.182,0.96),(0.185,1.0),(0.187,1.03),(0.19,0.975),(0.192,1.05),(0.195,0.99),
(0.197,0.955),(0.01,0.995),(0.03,1.005),(0.05,0.99),(0.07,1.0),(0.09,1.01),(0.11,0.995),(0.13,1.01),(0.15,1.0),(0.17,1.015),(0.19,1.005),
(0.203,1.112),(0.202,0.93),(0.205,0.98),(0.207,1.02),(0.21,0.96),(0.212,0.995),(0.215,0.94),(0.217,0.905),(0.22,0.97),(0.222,0.9),
(0.225,0.935),(0.227,0.88),(0.23,0.955),(0.232,0.92),(0.233,1.037),(0.237,0.9),(0.24,0.95),(0.242,0.87),(0.243,1.078),(0.246,0.915),
(0.248,0.96),(0.25,0.89),(0.252,0.93),(0.255,0.875),(0.257,0.95),(0.26,0.91),(0.268,1.086),(0.264,0.87),(0.266,0.935),(0.268,0.995),
(0.27,0.9),(0.272,0.96),(0.274,0.885),(0.276,0.92),(0.278,0.845),(0.28,0.82),(0.282,0.86),(0.284,0.8),(0.286,0.83),(0.288,0.79),
(0.29,0.855),(0.292,0.77),(0.294,0.81),(0.296,0.76),(0.298,1.112),(0.298,0.785),(0.3,0.74),(0.302,0.687),(0.302,0.795),(0.304,0.72),
(0.306,0.652),(0.306,0.75),(0.308,0.77),(0.31,0.765),(0.312,0.73),(0.314,0.745),(0.316,0.78),(0.318,0.71),(0.32,0.76),(0.322,0.795),
(0.324,0.725),(0.326,0.82),(0.328,0.775),(0.33,0.86),(0.332,0.8),(0.334,0.84),(0.335,1.104),(0.336,0.765),(0.338,0.87),(0.34,0.81),
(0.342,0.85),(0.345,0.895),(0.347,0.83),(0.35,0.9),(0.352,0.86),(0.355,0.925),(0.357,0.885),(0.36,0.84),(0.362,0.93),(0.365,0.9),
(0.367,0.955),(0.37,0.87),(0.372,0.99),(0.375,0.935),(0.377,0.9),(0.38,0.965),(0.382,1.0),(0.385,0.91),(0.387,0.975),(0.388,1.052),
(0.39,0.945),(0.395,0.89),(0.397,0.99),(0.4,0.96),(0.402,1.0),(0.404,1.048),(0.407,0.95),(0.41,0.985),(0.412,1.05),(0.415,0.975),
(0.417,1.005),(0.42,0.94),(0.422,1.015),(0.425,0.99),(0.427,1.045),(0.43,0.96),(0.432,1.0),(0.437,0.975),(0.44,1.02),(0.442,0.95),
(0.445,1.0),(0.447,0.98),(0.45,1.131),(0.452,0.925),(0.455,0.99),(0.457,1.01),(0.46,0.96),(0.462,1.02),(0.465,0.94),(0.467,1.0),
(0.472,0.97),(0.475,1.03),(0.477,0.935),(0.48,1.0),(0.482,0.975),(0.485,1.03),(0.493,1.097),
(0.62,0.975),(0.625,1.01),(0.63,1.0),(0.635,1.06),(0.638,1.035),(0.64,1.02),(0.645,0.99),(0.648,1.025),(0.65,1.005),(0.655,0.98),
(0.658,1.02),(0.66,1.0),(0.665,1.03),(0.668,0.99),(0.67,1.015),(0.675,0.98),(0.678,1.005),(0.68,1.025),(0.685,0.97),(0.688,1.0),
(0.69,0.99),(0.695,1.015),(0.7,0.975),(0.703,1.005),(0.705,0.95),(0.708,0.99),(0.71,1.03),(0.713,0.965),(0.715,1.0),(0.72,0.98),
(0.722,1.045),(0.725,0.96),(0.728,0.99),(0.73,1.02),(0.733,0.94),(0.735,0.975),(0.738,1.0),(0.74,0.95),(0.743,1.03),(0.745,0.97),
(0.748,0.99),(0.75,0.945),(0.753,1.015),(0.755,0.96),(0.758,0.985),(0.76,1.025),(0.763,0.95),(0.765,0.975),(0.768,1.0),(0.77,0.94),
(0.773,0.965),(0.775,0.99),(0.778,0.935),(0.78,1.01),(0.783,0.97),(0.785,0.95),(0.788,0.93),(0.79,0.985),(0.793,0.96),(0.795,0.91),
(0.798,1.0),(0.8,0.94),(0.803,0.97),(0.805,0.99),(0.807,0.925),(0.81,0.955),(0.812,0.9),(0.815,0.94),(0.817,0.87),(0.82,0.92),
(0.822,0.818),(0.824,0.89),(0.826,0.86),(0.828,0.91),(0.83,0.693),(0.832,0.756),(0.834,0.88),(0.836,0.85),(0.838,0.93),(0.84,0.87),
(0.842,0.9),(0.845,0.86),(0.847,0.915),(0.85,0.83),(0.852,0.88),(0.855,0.9),(0.857,0.98),(0.86,0.87),(0.862,0.915),(0.865,0.825),
(0.867,0.895),(0.87,0.94),(0.872,0.87),(0.875,1.02),(0.877,1.072),(0.88,0.905),(0.882,0.93),(0.885,0.88),(0.887,0.95),(0.89,0.915),
(0.892,0.94),(0.895,0.965),(0.897,0.93),(0.9,0.955),(0.902,0.99),(0.905,0.97),(0.907,0.945),(0.91,1.0),(0.912,0.98),(0.915,0.96),
(0.917,1.01),(0.92,0.985),(0.922,1.02),(0.925,0.97),(0.927,0.995),(0.93,0.95),(0.932,1.03),(0.935,0.98),(0.937,1.0),(0.94,0.96),
(0.942,1.015),(0.945,0.99),(0.947,1.025),(0.95,0.975),(0.952,0.94),(0.955,1.0),(0.957,1.03),(0.96,0.985),(0.962,1.01),(0.965,0.965),
(0.967,1.02),(0.97,0.995),(0.972,1.04),(0.975,0.98),(0.977,1.005),(0.98,0.96),(0.982,1.03),(0.985,1.0),(0.987,1.05),(0.99,0.985),
(0.992,1.02),(0.995,1.0),(0.997,1.04),(1.0,0.99)]

perkins_model = [
(0.0,1.0),(0.184,1.0),(0.195,0.995),(0.207,0.968),(0.219,0.94),(0.227,0.931),(0.239,0.936),(0.255,0.94),(0.266,0.926),(0.278,0.89),
(0.29,0.834),(0.302,0.788),(0.31,0.772),(0.318,0.779),(0.329,0.821),(0.341,0.866),(0.357,0.908),(0.373,0.936),(0.388,0.954),(0.408,0.972),
(0.436,0.989),(0.475,0.998),(0.538,1.0),(0.617,1.0),(0.68,0.999),(0.719,0.991),(0.759,0.968),(0.79,0.94),(0.814,0.908),(0.834,0.885),
(0.845,0.876),(0.857,0.88),(0.869,0.894),(0.889,0.926),(0.909,0.954),(0.932,0.974),(0.964,0.989),(1.0,0.995)]

hst18_pts = [
(0.274,0.986),(0.282,1.016),(0.278,0.977),(0.284,0.968),(0.288,0.945),(0.29,0.959),(0.292,0.924),(0.28,0.922),(0.294,0.949),(0.296,0.936),
(0.298,0.899),(0.3,0.853),(0.304,0.876),(0.307,0.834),(0.308,0.816),(0.311,0.82),(0.314,0.811),(0.316,0.843),(0.318,0.825),(0.32,0.862),
(0.322,0.82),(0.324,0.88),(0.325,0.899),(0.327,0.926),(0.329,0.848),(0.332,0.889),(0.333,0.834),(0.335,0.905),(0.337,0.885),(0.34,0.922),
(0.341,0.876),(0.345,0.913),(0.348,0.894),(0.349,0.94),(0.351,0.908),(0.353,0.926),(0.355,0.936),(0.359,0.959),(0.361,0.945),(0.365,0.968),
(0.367,0.986),(0.37,0.959),(0.373,0.977),(0.375,0.991),(0.377,0.972),(0.381,1.005),(0.383,0.986),(0.386,1.014),(0.388,1.037),(0.39,0.995),
(0.392,1.018),(0.395,1.009),(0.398,1.028),(0.4,1.0),(0.403,1.023),(0.406,1.014),(0.408,1.005),(0.412,1.028),(0.416,1.018),(0.418,1.057),
(0.42,0.995),(0.422,1.028),
(0.493,1.101),(0.503,1.089),(0.497,1.0),(0.5,1.032),(0.507,1.055),(0.511,1.018),(0.515,1.037),(0.519,1.014),(0.522,0.982),(0.526,1.028),
(0.53,1.005),(0.534,1.046),(0.538,1.018),(0.542,0.982),(0.546,1.032),(0.55,1.055),(0.552,1.009),(0.556,1.083),(0.558,1.037),(0.562,1.023),
(0.566,1.06),(0.568,1.009),(0.571,1.041),(0.574,1.028),(0.578,1.055),(0.58,1.014),(0.584,1.046),(0.587,1.032),(0.59,0.977),(0.593,1.064),
(0.596,1.023),(0.6,1.041),(0.603,1.06),(0.605,1.009),(0.609,1.074),(0.612,1.032),(0.615,1.051),(0.619,0.991),(0.622,1.078),(0.625,1.023),
(0.628,1.041),(0.631,1.009),(0.634,1.055),(0.638,1.028),(0.642,1.046),(0.645,1.0),(0.649,1.06),(0.652,1.032),(0.656,1.014),(0.66,1.051),
(0.664,0.995),(0.668,1.037),(0.672,1.023),(0.52,1.03),(0.545,1.01),(0.575,1.01),(0.605,1.03),(0.635,1.02),(0.66,1.02),(0.54,1.04),(0.595,1.0),
(0.81,1.037),(0.814,1.023),(0.818,1.006),(0.823,0.986),(0.82,0.885),(0.826,0.885),(0.83,0.88),(0.828,0.857),(0.831,0.839),(0.835,0.802),
(0.836,0.793),(0.838,0.945),(0.841,0.977),(0.844,0.991),(0.847,1.005),(0.849,0.959),(0.852,0.977),(0.855,1.0),(0.857,0.963),(0.86,0.986),
(0.863,1.009),(0.865,0.936),(0.869,0.977),(0.873,0.995),(0.877,0.972),(0.881,0.986),(0.885,1.0),(0.889,0.972),(0.894,1.028),(0.897,0.936),
(0.901,0.982),(0.905,1.009),(0.909,0.991),(0.913,1.018),(0.916,1.0),(0.92,0.977),(0.924,1.023),(0.927,1.052),(0.931,1.009),(0.934,1.037),
(0.937,0.986),(0.94,1.095),(0.943,1.023),(0.946,0.995),(0.95,1.041),(0.953,1.009),(0.956,1.046),(0.959,0.963),(0.962,1.028),(0.964,0.96),
(0.83,0.926),(0.838,0.913),(0.845,0.926)]

hst18_model = [
(0.0,1.032),(0.184,1.032),(0.195,1.028),(0.206,1.012),(0.215,0.991),(0.223,0.979),(0.235,0.981),(0.247,0.984),(0.261,0.979),(0.27,0.963),
(0.282,0.931),(0.294,0.885),(0.306,0.859),(0.314,0.857),(0.322,0.866),(0.333,0.899),(0.349,0.945),(0.365,0.972),(0.381,0.991),(0.4,1.006),
(0.428,1.018),(0.475,1.027),(0.538,1.032),(0.656,1.03),(0.696,1.028),(0.735,1.018),(0.775,0.995),(0.806,0.968),(0.83,0.945),(0.845,0.936),
(0.857,0.937),(0.869,0.949),(0.889,0.977),(0.916,1.0),(0.948,1.016),(1.0,1.028)]

# ---------------------------------------------------------------- styling
FONT = "DejaVu Serif"
GREEN = "#2ca02c"
BLUE = "#1f77b4"
GRAY_FILL = "#e0e0e0"
PINK_FILL = "#c71585"
PINK_ALPHA = 0.13


def style_axis(ax, ticks, labels, show_labels):
    ax.ticker = FixedTicker(ticks=ticks, minor_ticks=[])
    ax.major_label_overrides = {t: l for t, l in zip(ticks, labels)}
    ax.major_tick_in = 5
    ax.major_tick_out = 0
    ax.minor_tick_line_color = None
    ax.axis_line_color = "black"
    ax.axis_line_width = 1.2
    ax.major_tick_line_color = "black"
    ax.major_label_text_font = FONT
    ax.major_label_text_font_size = "16px"
    ax.major_label_text_color = "black" if show_labels else None
    ax.major_label_standoff = 4
    return ax


def set_axis_label(ax, text, size, standoff):
    ax.axis_label = text
    ax.axis_label_text_font = FONT
    ax.axis_label_text_font_size = size
    ax.axis_label_text_font_style = "normal"
    ax.axis_label_text_color = "black"
    ax.axis_label_standoff = standoff


def unzip(pts):
    return [a for a, b in pts], [b for a, b in pts]


def panel(pts, model, color, date, inst, gray, pink, top,
          mb_top, mb_bottom, mb_left, mb_right):
    fw, fh = 545, 253
    p = figure(width=mb_left + fw + mb_right, height=mb_top + fh + mb_bottom,
               x_range=Range1d(0, 1), y_range=Range1d(0.5, 1.2),
               output_backend="svg", toolbar_location=None,
               x_axis_location=None, y_axis_location=None,
               min_border_top=mb_top, min_border_bottom=mb_bottom,
               min_border_left=mb_left, min_border_right=mb_right)
    p.xgrid.visible = False
    p.ygrid.visible = False
    p.outline_line_color = "black"
    p.outline_line_width = 1.2
    p.background_fill_color = "white"
    p.border_fill_color = "white"

    p.add_layout(BoxAnnotation(left=gray[0], right=gray[1], fill_color=GRAY_FILL,
                               fill_alpha=1.0, line_color=None, level="underlay"))
    p.add_layout(BoxAnnotation(left=pink[0], right=pink[1], fill_color=PINK_FILL,
                               fill_alpha=PINK_ALPHA, line_color=None, level="underlay"))

    x, y = unzip(pts)
    p.scatter(x, y, marker="circle", size=6, color=color, line_color=color)
    mx, my = unzip(model)
    p.line(mx, my, color="black", line_width=2)

    p.add_layout(style_axis(LinearAxis(), yticks, ytick_labels, True), "left")
    p.add_layout(style_axis(LinearAxis(), yticks, ytick_labels, False), "right")
    if top:
        p.extra_x_ranges = {"minutes": Range1d(0, PERIOD_MIN)}
        tax = style_axis(LinearAxis(x_range_name="minutes"), minute_ticks, minute_tick_labels, True)
        tax.major_label_standoff = 8
        set_axis_label(tax, "Minutes", "26px", -4)
        p.add_layout(tax, "above")
        p.add_layout(style_axis(LinearAxis(), phase_ticks, phase_tick_labels, False), "below")
    else:
        p.add_layout(style_axis(LinearAxis(), phase_ticks, phase_tick_labels, False), "above")
        bax = style_axis(LinearAxis(), phase_ticks, phase_tick_labels, True)
        bax.major_label_standoff = 4
        set_axis_label(bax, "Phase", "31px", 0)
        p.add_layout(bax, "below")

    p.add_layout(Label(x=0.7, y=1.1447, text=date, text_font=FONT, text_font_size="21px",
                       text_color="black", text_baseline="alphabetic", text_align="left"))
    p.add_layout(Label(x=0.05, y=0.571, text=inst, text_font=FONT, text_font_size="21px",
                       text_color=color, text_baseline="alphabetic", text_align="left"))
    return p


def ylabel_fig(h, yc_from_top):
    f = figure(width=50, height=h, x_range=Range1d(0, 50), y_range=Range1d(0, h),
               output_backend="svg", toolbar_location=None,
               x_axis_location=None, y_axis_location=None, min_border=0)
    f.xgrid.visible = False
    f.ygrid.visible = False
    f.outline_line_color = None
    f.add_layout(Label(x=26, y=h - yc_from_top, text="Normalized Flux", angle=math.pi / 2,
                       text_align="center", text_baseline="middle",
                       text_font=FONT, text_font_size="31px", text_color="black"))
    return f


# left column: left border 36, right border 56 ; right column: 36 / 36
p1 = panel(meyer_pts, meyer_model, GREEN, dates[0], instruments[0], gray_2016, pink_2016, True, 52, 25, 36, 56)
p2 = panel(hst16_pts, hst16_model, BLUE, dates[1], instruments[1], gray_2016, pink_2016, False, 26, 71, 36, 56)
p3 = panel(muscat_pts, muscat_model, GREEN, dates[2], instruments[2], gray_2017a, pink_2017a, True, 52, 25, 36, 36)
p4 = panel(hst17a_pts, hst17a_model, BLUE, dates[3], instruments[3], gray_2017a, pink_2017a, False, 26, 71, 36, 36)
p5 = panel(dct_pts, dct_model, GREEN, dates[4], instruments[4], gray_2017b, pink_2017b, True, 125, 25, 36, 56)
p6 = panel(hst17b_pts, hst17b_model, BLUE, dates[5], instruments[5], gray_2017b, pink_2017b, False, 26, 56, 36, 56)
p7 = panel(perkins_pts, perkins_model, GREEN, dates[6], instruments[6], gray_2018, pink_2018, True, 125, 25, 36, 36)
p8 = panel(hst18_pts, hst18_model, BLUE, dates[7], instruments[7], gray_2018, pink_2018, False, 26, 56, 36, 36)

top_h = 52 + 253 + 25 + 26 + 253 + 71
bot_h = 125 + 253 + 25 + 26 + 253 + 56

layout = column(
    row(ylabel_fig(top_h, 323), column(p1, p2), ylabel_fig(top_h, 323), column(p3, p4)),
    row(ylabel_fig(bot_h, 1077 - top_h), column(p5, p6), ylabel_fig(bot_h, 1077 - top_h), column(p7, p8)),
)

open("out.html", "w").write(file_html(layout, INLINE))
